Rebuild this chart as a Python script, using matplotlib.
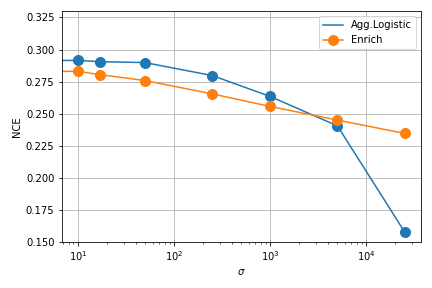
import matplotlib
matplotlib.use("Agg")
import matplotlib.pyplot as plt

sigma = [0, 10, 17, 50, 250, 1000, 5000, 25000]
agg_logistic = [0.2915, 0.2915, 0.2905, 0.2898, 0.2797, 0.2634, 0.2405, 0.1578]
enrich = [0.2830, 0.2830, 0.2804, 0.2758, 0.2654, 0.2556, 0.2450, 0.2346]

fig = plt.figure(figsize=(6, 4), dpi=72)
ax = fig.add_axes([61.5/432, 1-242/288, (421-61.5)/432, (242-11)/288])
ax.plot(sigma, agg_logistic, color='#1f77b4', label='Agg.Logistic')
ax.plot(sigma[1:], agg_logistic[1:], 'o', color='#1f77b4', markersize=10, label='_nolegend_')
ax.plot(sigma, enrich, '-o', color='#ff7f0e', markersize=10, label='Enrich')
ax.set_xscale('log')
ax.set_ylim(0.15, 0.33)
ax.set_yticks([0.150, 0.175, 0.200, 0.225, 0.250, 0.275, 0.300, 0.325])
ax.grid(True, color='#b0b0b0')
ax.set_xlabel(r'$\sigma$')
ax.set_ylabel('NCE')
ax.legend(loc='upper right')
fig.savefig('out.png', dpi=72)
